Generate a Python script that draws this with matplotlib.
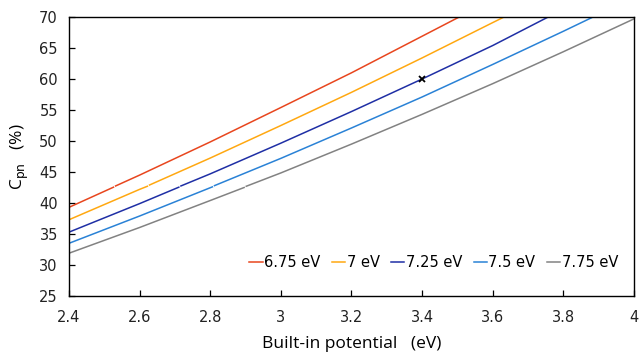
import numpy as np
import matplotlib
matplotlib.use("Agg")
import matplotlib.pyplot as plt

# ---------------------------------------
# DATA
# nan marks the small break in each curve
# ---------------------------------------
labels = ["6.75 eV", "7 eV", "7.25 eV", "7.5 eV", "7.75 eV"]
colors = ["#E8461E", "#FFA811", "#1F2FA5", "#2A82D6", "#828282"]

x_675 = [2.4, 2.526, np.nan, 2.532, 2.6, 2.8, 3.0, 3.2, 3.4, 3.505]
y_675 = [39.3, 42.55, np.nan, 42.75, 44.5, 49.85, 55.4, 61.0, 66.9, 70.0]

x_700 = [2.4, 2.6, 2.622, np.nan, 2.628, 2.8, 3.0, 3.2, 3.4, 3.6, 3.632]
y_700 = [37.3, 42.2, 42.7, np.nan, 42.9, 47.25, 52.5, 57.85, 63.4, 69.1, 70.0]

x_725 = [2.4, 2.6, 2.711, np.nan, 2.717, 2.8, 3.0, 3.2, 3.4, 3.6, 3.757]
y_725 = [35.3, 39.9, 42.55, np.nan, 42.75, 44.7, 49.65, 54.75, 60.0, 65.4, 70.0]

x_750 = [2.4, 2.6, 2.806, np.nan, 2.812, 3.0, 3.2, 3.4, 3.6, 3.8, 3.884]
y_750 = [33.5, 37.9, 42.6, np.nan, 42.8, 47.2, 52.1, 57.1, 62.35, 67.7, 70.0]

x_775 = [2.4, 2.6, 2.8, 2.896, np.nan, 2.902, 3.0, 3.2, 3.4, 3.6, 3.8, 4.0]
y_775 = [31.9, 36.05, 40.4, 42.5, np.nan, 42.7, 44.85, 49.5, 54.3, 59.25, 64.4, 69.7]

xs = [x_675, x_700, x_725, x_750, x_775]
ys = [y_675, y_700, y_725, y_750, y_775]

mark_x = [3.4]
mark_y = [60]

# ---------------------------------------
# PLOT
# ---------------------------------------
fig = plt.figure(figsize=(6.4, 3.58), dpi=100)
ax = fig.add_axes([0.1078, 0.1732, 0.8828, 0.7793])

for x, y, c, lab in zip(xs, ys, colors, labels):
    ax.plot(x, y, color=c, lw=1.1, label=lab)

ax.plot(mark_x, mark_y, 'x', color='black', ms=5, mew=1.3)

ax.set_xlim(2.4, 4.0)
ax.set_ylim(25, 70)
ax.set_xticks(np.arange(2.4, 4.01, 0.2))
ax.set_xticklabels(["2.4", "2.6", "2.8", "3", "3.2", "3.4", "3.6", "3.8", "4"])
ax.set_yticks(np.arange(25, 71, 5))

ax.tick_params(direction='in', length=4, width=0.9, labelsize=10.5,
               labelcolor='#222222')
ax.tick_params(axis='x', pad=10)
ax.tick_params(axis='y', pad=8)
for s in ax.spines.values():
    s.set_linewidth(1.0)
    s.set_color('black')

ax.set_xlabel("Built-in potential   (eV)", fontsize=12.5,
              family="Open Sans", labelpad=8)
ax.set_ylabel("C$_{\\mathrm{pn}}$   (%)", fontsize=12.5,
              family="Open Sans", labelpad=6)

ax.legend(loc='lower right', bbox_to_anchor=(0.995, 0.045), ncol=5,
          frameon=False, fontsize=10.5, handlelength=0.9,
          handletextpad=0.1, columnspacing=0.8)

fig.savefig("out.png", dpi=100)
